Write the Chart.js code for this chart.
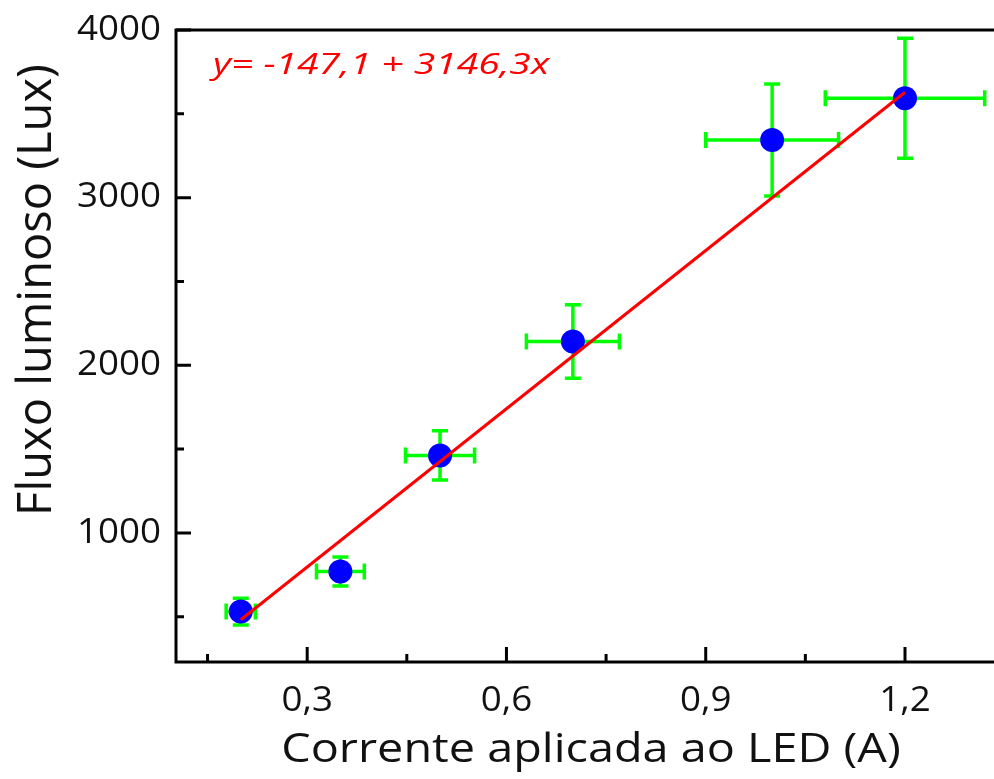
<!DOCTYPE html>
<html>
<head>
<meta charset="utf-8">
<script src="https://cdn.jsdelivr.net/npm/chart.js@4.4.0/dist/chart.umd.min.js"></script>
<style>
html, body { margin: 0; padding: 0; background: #fff; overflow: hidden; }
</style>
</head>
<body>
<canvas id="chart" width="994" height="779"></canvas>
<script>
// Measured points: current (A) vs luminous flux (Lux), with error bars
const currentA = [0.2, 0.35, 0.5, 0.7, 1.0, 1.2];
const fluxLux = [531, 770, 1462, 2142, 3344, 3593];
const currentErr = [0.022, 0.036, 0.052, 0.07, 0.1, 0.12];
const fluxErr = [80, 87, 147, 219, 334, 358];

// Linear fit shown on the chart
const fitA = -147.1;
const fitB = 3146.3;
const fitX = [0.2, 1.2];
const fitLabel = 'y= -147,1 + 3146,3x';

// Axis ticks
const xTicks = [0.3, 0.6, 0.9, 1.2];
const xMinor = [0.15, 0.45, 0.75, 1.05];
const yTicks = [1000, 2000, 3000, 4000];
const yMinor = [500, 1500, 2500, 3500];

const xTitle = 'Corrente aplicada ao LED (A)';
const yTitle = 'Fluxo luminoso (Lux)';

const fmt = v => String(v).replace('.', ',');
const textColor = '#111';

// the original figure is widened horizontally, so text is drawn stretched
function stretchedText(ctx, text, x, y, align, font, color, stretch) {
    ctx.save();
    ctx.translate(x, y);
    ctx.scale(stretch, 1);
    ctx.font = font;
    ctx.fillStyle = color;
    ctx.textAlign = align;
    ctx.textBaseline = 'middle';
    ctx.fillText(text, 0, 0);
    ctx.restore();
}

// Green error bars, drawn under the markers
const errorBarPlugin = {
    id: 'errorBars',
    beforeDatasetsDraw(chart) {
        const { ctx, scales: { x, y } } = chart;
        const cap = 8;
        ctx.save();
        ctx.strokeStyle = '#00ff00';
        ctx.lineWidth = 3.5;
        currentA.forEach((cx, i) => {
            const px = x.getPixelForValue(cx);
            const py = y.getPixelForValue(fluxLux[i]);
            const xl = x.getPixelForValue(cx - currentErr[i]);
            const xr = x.getPixelForValue(cx + currentErr[i]);
            const yt = y.getPixelForValue(fluxLux[i] + fluxErr[i]);
            const yb = y.getPixelForValue(fluxLux[i] - fluxErr[i]);
            ctx.beginPath();
            ctx.moveTo(xl, py); ctx.lineTo(xr, py);
            ctx.moveTo(px, yt); ctx.lineTo(px, yb);
            ctx.moveTo(xl, py - cap); ctx.lineTo(xl, py + cap);
            ctx.moveTo(xr, py - cap); ctx.lineTo(xr, py + cap);
            ctx.moveTo(px - cap, yt); ctx.lineTo(px + cap, yt);
            ctx.moveTo(px - cap, yb); ctx.lineTo(px + cap, yb);
            ctx.stroke();
        });
        ctx.restore();
    }
};

// Open frame, inward ticks, labels, titles and fit equation
const framePlugin = {
    id: 'frame',
    afterDraw(chart) {
        const { ctx, chartArea: a, scales: { x, y } } = chart;
        ctx.save();
        ctx.strokeStyle = '#000';
        ctx.lineWidth = 3;
        ctx.lineCap = 'square';
        ctx.beginPath();
        ctx.moveTo(a.right + 5, a.top);
        ctx.lineTo(a.left, a.top);
        ctx.lineTo(a.left, a.bottom);
        ctx.lineTo(a.right + 5, a.bottom);
        ctx.stroke();

        ctx.lineCap = 'butt';
        ctx.beginPath();
        xTicks.forEach(v => { const p = x.getPixelForValue(v); ctx.moveTo(p, a.bottom); ctx.lineTo(p, a.bottom - 15); });
        xMinor.forEach(v => { const p = x.getPixelForValue(v); ctx.moveTo(p, a.bottom); ctx.lineTo(p, a.bottom - 8); });
        yTicks.forEach(v => { const p = y.getPixelForValue(v); ctx.moveTo(a.left, p); ctx.lineTo(a.left + 15, p); });
        yMinor.forEach(v => { const p = y.getPixelForValue(v); ctx.moveTo(a.left, p); ctx.lineTo(a.left + 8, p); });
        ctx.stroke();
        ctx.restore();

        const tickFont = '34px "Open Sans"';
        xTicks.forEach(v => stretchedText(ctx, fmt(v), x.getPixelForValue(v), a.bottom + 39, 'center', tickFont, textColor, 1.08));
        yTicks.forEach(v => stretchedText(ctx, String(v), a.left - 15, y.getPixelForValue(v), 'right', tickFont, textColor, 1.08));

        stretchedText(ctx, xTitle, (a.left + a.right) / 2 + 6, a.bottom + 89, 'center', '40px "Open Sans"', textColor, 1.17);

        // y title: rotated, so the widening affects letter height only
        ctx.save();
        ctx.translate(38, 290);
        ctx.rotate(-Math.PI / 2);
        ctx.font = '47px "Open Sans"';
        ctx.fillStyle = textColor;
        ctx.textAlign = 'center';
        ctx.textBaseline = 'middle';
        ctx.fillText(yTitle, 0, 0);
        ctx.restore();

        stretchedText(ctx, fitLabel, a.left + 37, a.top + 35, 'left', 'italic 30px "Open Sans"', '#ff0000', 1.3);
    }
};

const chartCtx = document.getElementById('chart').getContext('2d');

new Chart(chartCtx, {
    type: 'scatter',
    data: {
        datasets: [
            {
                type: 'line',
                data: fitX.map(v => ({ x: v, y: fitA + fitB * v })),
                borderColor: '#ff0000',
                borderWidth: 3,
                pointRadius: 0,
                fill: false,
                order: 0
            },
            {
                data: currentA.map((v, i) => ({ x: v, y: fluxLux[i] })),
                backgroundColor: '#0000ff',
                borderWidth: 0,
                pointRadius: 12,
                pointHoverRadius: 12,
                order: 1
            }
        ]
    },
    options: {
        responsive: false,
        animation: false,
        layout: { autoPadding: false, padding: { top: 30, left: 0, right: 0, bottom: 0 } },
        plugins: {
            legend: { display: false },
            tooltip: { enabled: false }
        },
        scales: {
            x: {
                type: 'linear',
                min: 0.1025,
                max: 1.334,
                grid: { display: false, drawTicks: false },
                border: { display: false },
                afterBuildTicks: s => { s.ticks = xTicks.map(v => ({ value: v })); },
                afterFit: s => { s.height = 117; },
                ticks: { display: false }
            },
            y: {
                type: 'linear',
                min: 230,
                max: 4000,
                grid: { display: false, drawTicks: false },
                border: { display: false },
                afterBuildTicks: s => { s.ticks = yTicks.map(v => ({ value: v })); },
                afterFit: s => { s.width = 176; },
                ticks: { display: false }
            }
        }
    },
    plugins: [errorBarPlugin, framePlugin]
});
</script>
</body>
</html>
